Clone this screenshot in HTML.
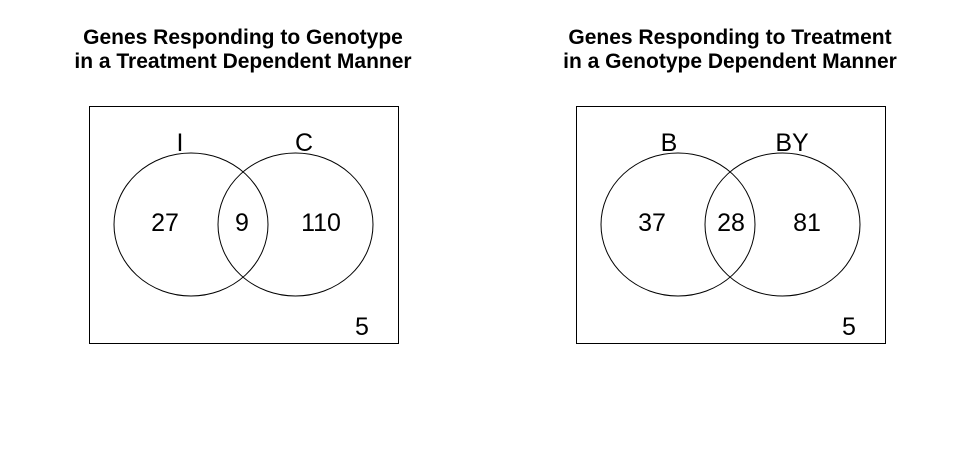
<!DOCTYPE html>
<html><head><meta charset="utf-8"><style>
body{margin:0;background:#fff}
svg{display:block;font-family:"Liberation Sans",Arial,sans-serif}
</style></head><body>
<svg id="c" width="975" height="450" viewBox="0 0 975 450"></svg>
<script>
const titles=[["Genes Responding to Genotype","in a Treatment Dependent Manner"],["Genes Responding to Treatment","in a Genotype Dependent Manner"]];
const setNames=[["I","C"],["B","BY"]];
const onlyA=[27,37];
const both=[9,28];
const onlyB=[110,81];
const neither=[5,5];
const NS="http://www.w3.org/2000/svg";
const svg=document.getElementById('c');
function mk(t,a,txt){const e=document.createElementNS(NS,t);for(const k in a)e.setAttribute(k,a[k]);if(txt!==undefined)e.textContent=txt;svg.appendChild(e);return e;}
const offsets=[0,487];
for(let p=0;p<2;p++){
 const o=offsets[p];
 const t1=mk('text',{x:243+o,y:44,'text-anchor':'middle','font-size':21,'font-weight':'bold'},titles[p][0]);
 
 
 const t2=mk('text',{x:243+o,y:68,'text-anchor':'middle','font-size':21,'font-weight':'bold'},titles[p][1]);
 
 
 const box=mk('rect',{x:89.5+o,y:106.5,width:309,height:237,fill:'none',stroke:'#000'});
 
 
 const cA=mk('ellipse',{cx:191+o,cy:224.5,rx:77,ry:71.5,fill:'none',stroke:'#000'});
 
 
 const cB=mk('ellipse',{cx:295.5+o,cy:224.5,rx:77.5,ry:71.5,fill:'none',stroke:'#000'});
 
 
 const items=[[180,151,setNames[p][0],'set-a-label'],[304,151,setNames[p][1],'set-b-label'],
  [165,231,onlyA[p],'only-a-count'],[242,231,both[p],'intersection-count'],[321,231,onlyB[p],'only-b-count'],[362,335,neither[p],'neither-count']];
 if(p===1){items[0][0]=669;items[1][0]=792;items[2][0]=652;items[3][0]=731;items[4][0]=807;items[5][0]=849;}
 for(const it of items){
  const e=mk('text',{x:it[0],y:it[1],'text-anchor':'middle','font-size':25},String(it[2]));
  
  
 }
}
</script>
</body></html>
